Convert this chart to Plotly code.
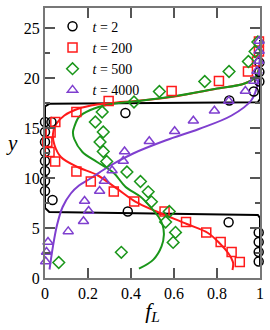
import plotly.graph_objects as go

# ---- data: t = 2 (black circles + step-like line)
t2_x = [0.994, 0.994, 0.994, 0.994, 0.854, 0.385, 0.035, 0.0, 0.0, 0.0, 0.0, 0.0,
        0.0, 0.0, 0.0, 0.03, 0.374, 0.857, 0.971, 0.997, 0.997, 0.997]
t2_y = [1.65, 2.6, 3.6, 4.55, 5.58, 6.65, 7.8, 8.7, 9.7, 10.7, 11.7, 12.6,
        13.6, 14.6, 15.6, 15.6, 16.5, 17.75, 18.65, 19.65, 20.6, 21.55]
t2_line_x = [1.0, 1.0, 0.99, 0.5, 0.02, 0.0, 0.0, 0.02, 0.5, 0.99, 1.0, 1.0]
t2_line_y = [1.3, 6.0, 6.3, 6.45, 6.6, 7.0, 17.15, 17.42, 17.5, 17.58, 17.9, 23.8]

# ---- t = 200 (red squares + curve)
t200_x = [0.906, 0.868, 0.817, 0.75, 0.656, 0.556, 0.415, 0.32, 0.213, 0.146, 0.047, 0.021,
          0.011, 0.026, 0.048, 0.146, 0.296, 0.589, 0.809, 0.944, 0.986, 0.995, 0.995]
t200_y = [1.6, 2.6, 3.6, 4.55, 5.6, 6.65, 7.65, 8.65, 9.65, 10.65, 11.65, 12.6,
          13.6, 14.55, 15.6, 16.6, 17.7, 18.7, 19.7, 20.65, 21.65, 22.65, 23.65]
t200_line_x = [0.872, 0.875, 0.866, 0.852, 0.811, 0.758, 0.66, 0.519, 0.42, 0.333, 0.242,
               0.151, 0.074, 0.044, 0.037, 0.052, 0.09, 0.151, 0.242, 0.333, 0.42, 0.594,
               0.79, 0.928, 0.98, 0.997, 1.0]
t200_line_y = [0.8, 1.5, 2.0, 2.5, 3.5, 4.5, 5.4, 6.65, 7.64, 8.96, 10.3,
               11.1, 12.1, 13.3, 14.4, 15.4, 16.25, 16.9, 17.35, 17.55, 17.7, 18.12,
               18.9, 19.45, 20.1, 21.1, 23.6]

# ---- t = 500 (green diamonds + curve)
t500_x = [0.064, 0.355, 0.596, 0.607, 0.561, 0.578, 0.495, 0.48, 0.444, 0.381, 0.287, 0.271,
          0.256, 0.271, 0.234, 0.266, 0.414, 0.532, 0.743, 0.856, 0.946, 0.977, 0.99]
t500_y = [1.55, 2.57, 3.56, 4.56, 5.6, 6.65, 7.62, 8.62, 9.65, 10.6, 11.65, 12.65,
          13.6, 14.6, 15.6, 16.6, 17.6, 18.65, 19.65, 20.65, 21.65, 22.65, 23.6]
t500_line_x = [0.437, 0.504, 0.542, 0.553, 0.547, 0.527, 0.489, 0.443, 0.374, 0.32, 0.242,
               0.174, 0.136, 0.13, 0.136, 0.158, 0.211, 0.295, 0.41, 0.594, 0.79, 0.928,
               0.98, 0.997, 1.0]
t500_line_y = [0.93, 1.84, 3.16, 4.33, 5.3, 6.15, 7.14, 8.14, 9.13, 10.5, 11.6,
               12.6, 13.9, 14.6, 15.1, 16.1, 16.8, 17.36, 17.65, 18.15, 18.9, 19.45,
               20.1, 21.1, 23.6]

# ---- t = 4000 (purple triangles + curve)
t4000_x = [0.003, 0.007, 0.014, 0.108, 0.179, 0.203, 0.184, 0.254, 0.276, 0.312, 0.364, 0.37,
           0.485, 0.603, 0.69, 0.788, 0.855, 0.932, 0.971, 0.986, 0.994, 0.996, 0.996]
t4000_y = [1.65, 2.6, 3.6, 4.66, 5.68, 6.7, 7.7, 8.7, 9.7, 10.75, 11.7, 12.65,
           13.68, 14.68, 15.72, 16.72, 17.7, 18.7, 19.7, 20.7, 21.7, 22.7, 23.7]
t4000_line_x = [0.021, 0.037, 0.056, 0.082, 0.12, 0.158, 0.211, 0.3, 0.41, 0.563, 0.716,
                0.868, 0.959, 0.989, 1.0]
t4000_line_y = [0.85, 3.16, 5.3, 7.1, 8.45, 9.25, 9.95, 11.2, 12.45, 13.77, 14.9,
                16.25, 17.75, 19.4, 23.7]

names = ["<i>t</i> = 2", "<i>t</i> = 200", "<i>t</i> = 500", "<i>t</i> = 4000"]
colors = ["#000000", "#ff1a1a", "#1a961a", "#7f3fcf"]
symbols = ["circle-open", "square-open", "diamond-open", "triangle-up-open"]

x_ticks = [0, 0.2, 0.4, 0.6, 0.8, 1]
x_ticktext = ["0", "0.2", "0.4", "0.6", "0.8", "1"]
y_ticks = [0, 5, 10, 15, 20, 25]

FONT = "Liberation Serif"

fig = go.Figure()

lines = [(t2_line_x, t2_line_y, "linear"), (t200_line_x, t200_line_y, "spline"),
         (t500_line_x, t500_line_y, "spline"), (t4000_line_x, t4000_line_y, "spline")]
for (lx, ly, shape), c in zip(lines, colors):
    fig.add_trace(go.Scatter(x=lx, y=ly, mode="lines", showlegend=False,
                             line=dict(color=c, width=2, shape=shape), cliponaxis=False))

pts = [(t2_x, t2_y), (t200_x, t200_y), (t500_x, t500_y), (t4000_x, t4000_y)]
for (px, py), c, s, n in zip(pts, colors, symbols, names):
    fig.add_trace(go.Scatter(x=px, y=py, mode="markers", name=n, cliponaxis=False,
                             marker=dict(symbol=s, size=9, color=c, line=dict(width=1.5, color=c))))

fig.update_layout(
    width=270, height=330,
    margin=dict(l=45, r=6, t=8, b=52),
    plot_bgcolor="white", paper_bgcolor="white",
    font=dict(family=FONT, size=16, color="black"),
    showlegend=True,
    legend=dict(x=0.035, y=0.99, xanchor="left", yanchor="top",
                bgcolor="rgba(0,0,0,0)", font=dict(family=FONT, size=14),
                itemwidth=30, tracegroupgap=0),
    xaxis=dict(range=[0, 1], tickvals=x_ticks, ticktext=x_ticktext, ticks="inside",
               ticklen=10, tickwidth=1.5, tickcolor="#555", showline=True, linewidth=2,
               linecolor="#777", mirror="allticks", showgrid=False, zeroline=False,
               title=dict(text="<i>f</i><sub><i>L</i></sub>", font=dict(size=22), standoff=1)),
    yaxis=dict(range=[0, 27], tickvals=y_ticks, ticks="inside", ticklen=10, tickwidth=1.5,
               tickcolor="#555", showline=True, linewidth=2, linecolor="#777",
               mirror="allticks", showgrid=False, zeroline=False,
               minor=dict(ticks="inside", ticklen=5, dtick=2.5, tickcolor="#555", tickwidth=1.5)),
    annotations=[dict(text="<i>y</i>", xref="paper", yref="paper", x=-0.152, y=0.5,
                      xanchor="center", yanchor="middle",
                      showarrow=False, font=dict(family=FONT, size=21))],
)

fig.write_html("out.html", config={"displayModeBar": False},
               post_script="document.body.style.margin='0';document.body.style.overflow='hidden';")
